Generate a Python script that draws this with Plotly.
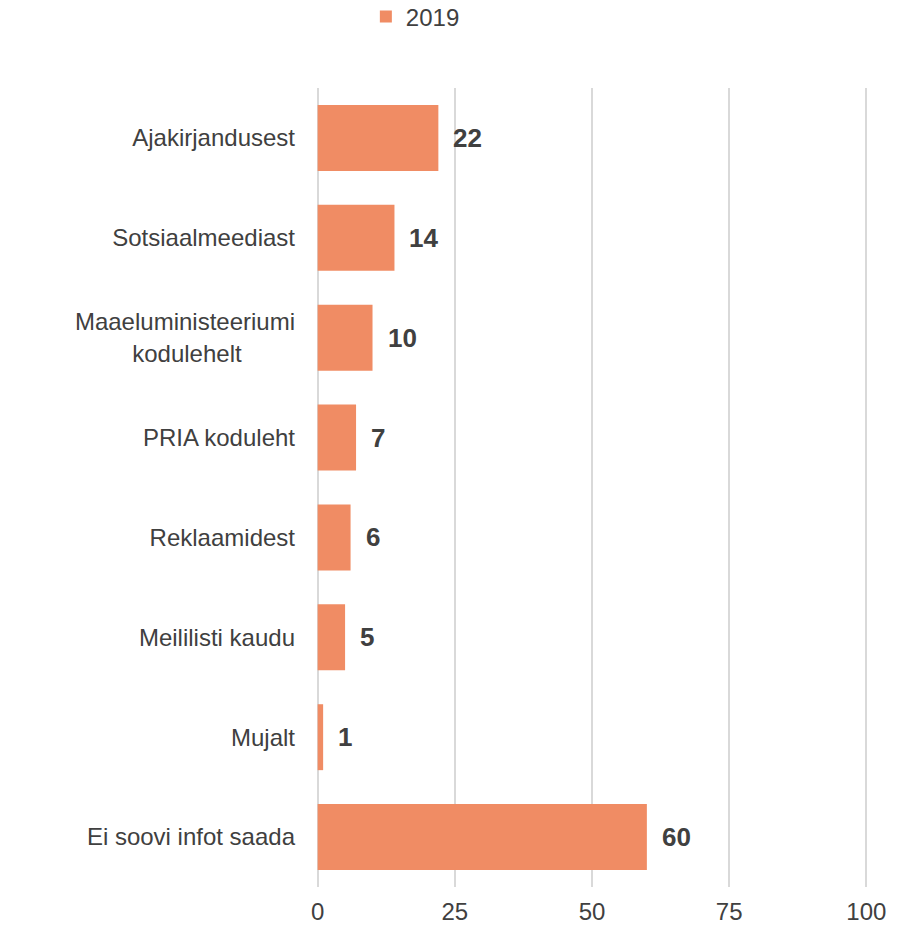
import plotly.graph_objects as go

# Where respondents get their information (share, %)
categories = [
    "Ajakirjandusest",
    "Sotsiaalmeediast",
    "Maaeluministeeriumi<br>kodulehelt" + "&nbsp;" * 8,
    "PRIA koduleht",
    "Reklaamidest",
    "Meililisti kaudu",
    "Mujalt",
    "Ei soovi infot saada",
]
values_2019 = [22, 14, 10, 7, 6, 5, 1, 60]
series_name = "2019"
x_ticks = [0, 25, 50, 75, 100]

bar_color = "#F08C64"
text_color = "#404040"
grid_color = "#D9D9D9"
font_family = "Liberation Sans, Arial, sans-serif"
label_size = 24

fig = go.Figure(
    go.Bar(
        x=values_2019,
        y=categories,
        orientation="h",
        name=series_name,
        marker=dict(color=bar_color, line=dict(width=0)),
        showlegend=True,
    )
)

# Value labels just to the right of each bar
for cat, val in zip(categories, values_2019):
    fig.add_annotation(
        x=val, y=cat, xref="x", yref="y",
        text=f"<b>{val}</b>", showarrow=False,
        xanchor="left", xshift=13,
        font=dict(family=font_family, size=26, color=text_color),
    )

fig.update_layout(
    width=908, height=926,
    margin=dict(l=316, r=40, t=88, b=39, autoexpand=False),
    paper_bgcolor="white", plot_bgcolor="white",
    bargap=0.34,
    font=dict(family=font_family, size=label_size, color=text_color),
    legend=dict(
        orientation="h", x=0.18, xanchor="center", y=1.117, yanchor="top",
        font=dict(family=font_family, size=label_size, color=text_color),
        itemwidth=30, bgcolor="rgba(0,0,0,0)",
    ),
    xaxis=dict(
        range=[-0.3, 100.3], tickvals=x_ticks, ticktext=[str(t) for t in x_ticks],
        showgrid=True, gridcolor=grid_color, gridwidth=2,
        zeroline=False, showline=False, ticks="",
        ticklabelstandoff=8, automargin=False,
        tickfont=dict(family=font_family, size=label_size, color=text_color),
    ),
    yaxis=dict(
        autorange="reversed", showgrid=False, zeroline=False, showline=False,
        ticks="", ticklabelstandoff=20, automargin=False,
        tickfont=dict(family=font_family, size=label_size, color=text_color),
    ),
)

fig.write_html("out.html")
